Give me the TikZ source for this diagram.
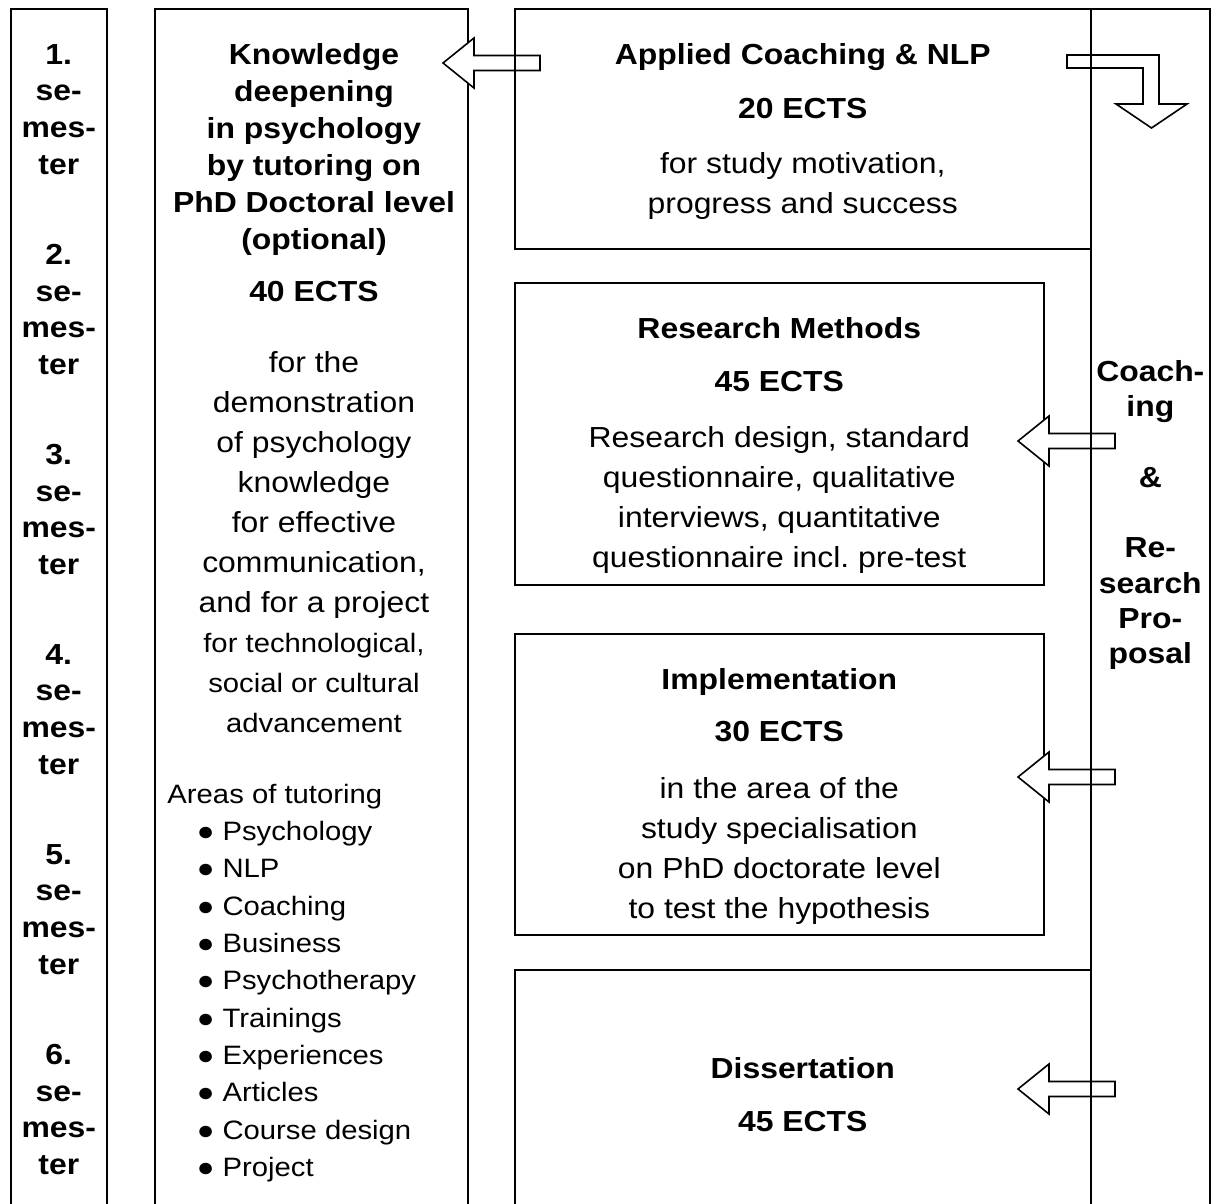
\documentclass[tikz,border=0pt]{standalone}
\usepackage{fontspec}
\setmainfont{Liberation Sans}[FakeStretch=1.1]
\usetikzlibrary{positioning}

\frenchspacing
\newcommand{\smalltxt}{\fontsize{19.95}{30}\selectfont}
\newcommand{\leftblockarrow}[1]{%
    \draw[blockarrow] (#1) -- ++(31,-25) -- ++(0,17.5) -- ++(66,0) -- ++(0,15) -- ++(-66,0) -- ++(0,17.5) -- cycle;}

\begin{document}
\begin{tikzpicture}[x=0.75pt, y=-0.75pt, line width=1.2pt,
    box/.style={draw, rectangle, inner sep=0pt, anchor=north west},
    txt/.style={inner sep=0pt, align=center, font=\fontsize{21.75}{30}\selectfont},
    semtxt/.style={txt, font=\fontsize{21.75}{27.5}\selectfont\bfseries},
    blockarrow/.style={draw, fill=white, line join=miter}]
    \useasboundingbox (0,0) rectangle (1212,1203);

    % semesters
    \node[box, minimum width=72pt, minimum height=905.25pt] (sem) at (10,8) {};
    \foreach \k in {1,...,6} {
        \pgfmathsetmacro{\semdist}{26.6+150*(\k-1)}
        \node[semtxt, below=\semdist pt of sem.north] (sem-\k) {\k.\\se-\\mes-\\ter};
    }

    % tutoring column
    \node[box, minimum width=234.75pt, minimum height=905.25pt] (know) at (154,8) {};
    \node[txt, font=\fontsize{21.75}{27.7}\selectfont\bfseries, below=26pt of know.north, xshift=2pt] (know-title) {Knowledge\\deepening\\in psychology\\by tutoring on\\PhD Doctoral level\\(optional)\\[11.3pt]40 ECTS};
    \node[txt, below=257pt of know.north, xshift=2pt] (know-body) {for the\\demonstration\\of psychology\\knowledge\\for effective\\communication,\\and for a project\\{\smalltxt for technological,}\\{\smalltxt social or cultural}\\{\smalltxt advancement}};
    \node[txt, align=left, font=\fontsize{19.95}{28}\selectfont, below right=581.4pt and 9.5pt of know.north west] (know-areas) {Areas of tutoring\\
        \hspace*{22pt}● Psychology\\
        \hspace*{22pt}● NLP\\
        \hspace*{22pt}● Coaching\\
        \hspace*{22pt}● Business\\
        \hspace*{22pt}● Psychotherapy\\
        \hspace*{22pt}● Trainings\\
        \hspace*{22pt}● Experiences\\
        \hspace*{22pt}● Articles\\
        \hspace*{22pt}● Course design\\
        \hspace*{22pt}● Project};

    % modules
    \node[box, minimum width=396.75pt, minimum height=226.5pt] (research) at (514,282) {};
    \node[txt, below=26.35pt of research.north] (research-txt) {\textbf{Research Methods}\\[9.2pt]\textbf{45 ECTS}\\[12pt]Research design, standard\\questionnaire, qualitative\\interviews, quantitative\\questionnaire incl. pre-test};
    \node[box, minimum width=396.75pt, minimum height=225.75pt] (impl) at (514,633) {};
    \node[txt, below=25.85pt of impl.north] (impl-txt) {\textbf{Implementation}\\[9pt]\textbf{30 ECTS}\\[12.75pt]in the area of the\\study specialisation\\on PhD doctorate level\\to test the hypothesis};
    \node[box, minimum width=432pt, minimum height=184.5pt] (diss) at (514,969) {};
    \node[txt, below=65.65pt of diss.north] (diss-txt) {\textbf{Dissertation}\\[9.75pt]\textbf{45 ECTS}};

    % block arrows
    \coordinate (tip-know) at (443,63);
    \coordinate (tip-research) at (1018,441);
    \coordinate (tip-impl) at (1018,777);
    \coordinate (tip-diss) at (1018,1089);
    \leftblockarrow{tip-know}
    \leftblockarrow{tip-research}
    \leftblockarrow{tip-impl}
    \leftblockarrow{tip-diss}
    \draw[blockarrow] (1067,55) -| (1159,104) -- (1187,104) -- (1151.5,128) -- (1116,104) -- (1143,104) |- (1067,68) -- cycle;

    \node[box, minimum width=432pt, minimum height=180pt] (applied) at (514,8) {};
    \node[txt, below=26.25pt of applied.north] (applied-txt) {\textbf{Applied Coaching \& NLP}\\[9.9pt]\textbf{20 ECTS}\\[11.25pt]for study motivation,\\progress and success};
    \node[box, minimum width=89.25pt, minimum height=905.25pt] (coach) at (1090,8) {};
    \node[semtxt, font=\fontsize{21.75}{26.5}\selectfont\bfseries, below=263.6pt of coach.north] (coach-txt) {Coach-\\ing\\[26.5pt]\&\\[26.5pt]Re-\\search\\Pro-\\posal};
\end{tikzpicture}
\end{document}
